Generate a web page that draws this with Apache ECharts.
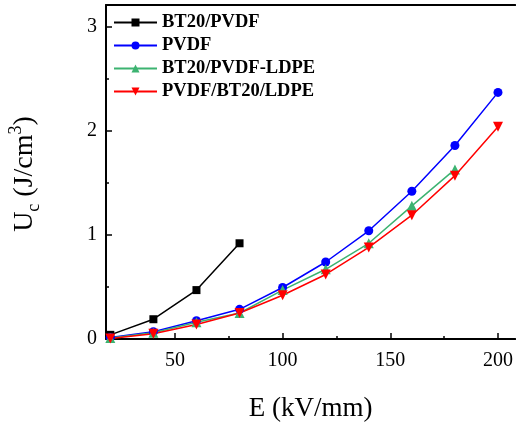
<!DOCTYPE html>
<html>
<head>
<meta charset="utf-8">
<script src="https://cdn.jsdelivr.net/npm/echarts@6/dist/echarts.min.js"></script>
<style>
  html, body { margin: 0; padding: 0; background: #fff; }
  #chart { width: 516px; height: 427px; }
</style>
</head>
<body>
<div id="chart"></div>
<script>
// Electric field (kV/mm)
const fieldShort = [20, 40, 60, 80];
const fieldMid = [20, 40, 60, 80, 100, 120, 140, 160, 180];
const fieldFull = [20, 40, 60, 80, 100, 120, 140, 160, 180, 200];

// Charged energy density Uc (J/cm3)
const bt20Pvdf = [0.04, 0.19, 0.47, 0.92];
const pvdf = [0.015, 0.07, 0.175, 0.285, 0.495, 0.74, 1.04, 1.42, 1.86, 2.37];
const bt20PvdfLdpe = [0.01, 0.06, 0.16, 0.25, 0.47, 0.67, 0.92, 1.28, 1.63];
const pvdfBt20Ldpe = [0.005, 0.05, 0.14, 0.25, 0.42, 0.62, 0.88, 1.19, 1.57, 2.04];

const seriesNames = ['BT20/PVDF', 'PVDF', 'BT20/PVDF-LDPE', 'PVDF/BT20/LDPE'];

const xMajor = [50, 100, 150, 200];
const xMinor = [75, 125, 175];
const yMajor = [0, 1, 2, 3];
const yMinor = [0.5, 1.5, 2.5];

const xRange = { min: 18, max: 208 };
const yRange = { min: 0, max: 3.21 };

const pair = (xs, ys) => xs.map((x, i) => [x, ys[i]]);

const serif = 'Liberation Serif';
const chart = echarts.init(document.getElementById('chart'));

const frameLine = { color: '#000', width: 2 };
const tickLine = { color: '#000', width: 1.5 };
const clearLine = { show: true, lineStyle: { color: 'rgba(0,0,0,0)', width: 1 } };

// Overlay axis that only draws a set of inward tick marks
function tickAxis(range, position, values, length) {
  return Object.assign({
    type: 'value', position: position,
    axisLine: clearLine,
    axisTick: { show: true, inside: true, length: length, customValues: values, lineStyle: tickLine },
    axisLabel: { show: false, customValues: values },
    splitLine: { show: false }
  }, range);
}

chart.setOption({
  animation: false,
  grid: { left: 106, top: 5, right: 0, bottom: 88 },
  legend: {
    orient: 'vertical',
    left: 113,
    top: 13,
    padding: 0,
    itemWidth: 43,
    itemHeight: 10,
    itemGap: 4,
    textStyle: { fontFamily: serif, fontWeight: 'bold', fontSize: 18.5, color: '#000', lineHeight: 19 },
    data: seriesNames
  },
  xAxis: [
    Object.assign({
      type: 'value', position: 'bottom',
      name: 'E (kV/mm)', nameLocation: 'middle', nameGap: 56,
      nameTextStyle: { fontFamily: serif, fontSize: 27, color: '#000' },
      axisLine: { lineStyle: frameLine },
      axisTick: { show: false },
      axisLabel: { customValues: xMajor, margin: 12, fontFamily: serif, fontSize: 20, color: '#000' },
      splitLine: { show: false }
    }, xRange),
    tickAxis(xRange, 'bottom', xMajor, 6),
    tickAxis(xRange, 'bottom', xMinor, 3),
    Object.assign({
      type: 'value', position: 'top',
      axisLine: { show: true, lineStyle: frameLine },
      axisTick: { show: false }, axisLabel: { show: false }, splitLine: { show: false }
    }, xRange)
  ],
  yAxis: [
    Object.assign({
      type: 'value', position: 'left',
      axisLine: { show: true, lineStyle: frameLine },
      axisTick: { show: false },
      axisLabel: { customValues: yMajor, margin: 9, fontFamily: serif, fontSize: 20, color: '#000' },
      splitLine: { show: false }
    }, yRange),
    tickAxis(yRange, 'left', yMajor, 6),
    tickAxis(yRange, 'left', yMinor, 3)
  ],
  graphic: [
    {
      type: 'text',
      x: 25, y: 174,
      rotation: Math.PI / 2,
      style: {
        text: 'U{sub|c} (J/cm{sup|3})',
        fontFamily: serif, fontSize: 28, fill: '#000',
        align: 'center', verticalAlign: 'middle',
        lineHeight: 36,
        rich: {
          sub: { fontFamily: serif, fontSize: 18, lineHeight: 18, verticalAlign: 'bottom', fill: '#000' },
          sup: { fontFamily: serif, fontSize: 18, lineHeight: 18, verticalAlign: 'top', fill: '#000' }
        }
      }
    }
  ],
  series: [
    {
      name: seriesNames[0], type: 'line', data: pair(fieldShort, bt20Pvdf),
      symbol: 'rect', symbolSize: 8,
      lineStyle: { color: '#000', width: 1.5 }, itemStyle: { color: '#000' }
    },
    {
      name: seriesNames[1], type: 'line', data: pair(fieldFull, pvdf),
      symbol: 'circle', symbolSize: 9,
      lineStyle: { color: '#0000ff', width: 1.5 }, itemStyle: { color: '#0000ff' }
    },
    {
      name: seriesNames[2], type: 'line', data: pair(fieldMid, bt20PvdfLdpe),
      symbol: 'triangle', symbolSize: 10,
      lineStyle: { color: '#3cb371', width: 1.5 }, itemStyle: { color: '#3cb371' }
    },
    {
      name: seriesNames[3], type: 'line', data: pair(fieldFull, pvdfBt20Ldpe),
      symbol: 'triangle', symbolSize: 10, symbolRotate: 180,
      lineStyle: { color: '#ff0000', width: 1.5 }, itemStyle: { color: '#ff0000' }
    }
  ]
});
</script>
</body>
</html>
